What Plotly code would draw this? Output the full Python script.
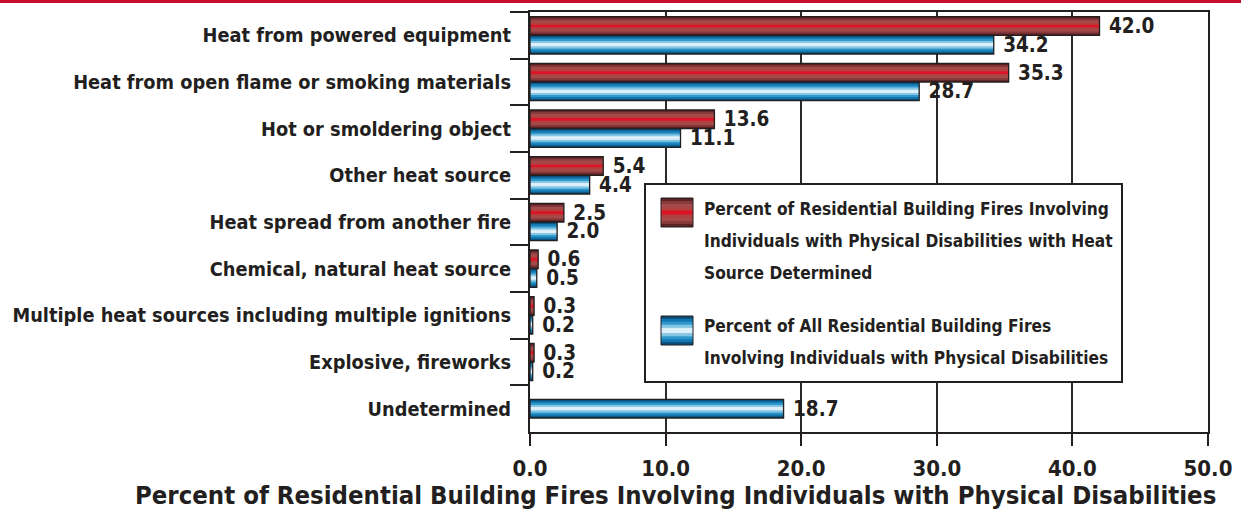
import plotly.graph_objects as go

categories = ["Heat from powered equipment",
              "Heat from open flame or smoking materials",
              "Hot or smoldering object",
              "Other heat source",
              "Heat spread from another fire",
              "Chemical, natural heat source",
              "Multiple heat sources including multiple ignitions",
              "Explosive, fireworks",
              "Undetermined"]
determined = [42.0, 35.3, 13.6, 5.4, 2.5, 0.6, 0.3, 0.3, None]
all_fires = [34.2, 28.7, 11.1, 4.4, 2.0, 0.5, 0.2, 0.2, 18.7]
x_ticks = [0, 10, 20, 30, 40, 50]

name_red = ["Percent of Residential Building Fires Involving",
            "Individuals with Physical Disabilities with Heat",
            "Source Determined"]
name_blue = ["Percent of All Residential Building Fires",
             "Involving Individuals with Physical Disabilities"]
x_title = "Percent of Residential Building Fires Involving Individuals with Physical Disabilities"

FONT = "DejaVu Sans Condensed, Liberation Sans Narrow, Roboto Condensed, sans-serif"
TXT = "#231f20"
W, H = 1241, 512
L, R, T, B = 530, 33, 12, 80

red_layers = [(1.0, "#5a2022"), (0.8, "#86393a"), (0.6, "#a54a4a"), (0.34, "#b2403f"), (0.14, "#dc1428")]
blue_layers = [(1.0, "#0a4f7a"), (0.8, "#1479b0"), (0.6, "#2e98cc"), (0.4, "#86c6e4"), (0.18, "#dcf0f9")]

BW = 0.4  # bar width in category units


def fnt(size):
    return dict(family=FONT, size=size, color=TXT, weight="bold")


fig = go.Figure()


def add_series(values, layers, offsets, name):
    for frac, col in layers:
        w = BW * frac
        fig.add_trace(go.Bar(
            y=categories, x=values, orientation="h", name=name,
            width=[w] * len(categories),
            offset=[o + (BW - w) / 2 for o in offsets],
            marker=dict(color=col, line=dict(width=0)),
            showlegend=False, hoverinfo="skip"))
    fig.add_trace(go.Bar(
        y=categories, x=values, orientation="h", name=name,
        width=[BW] * len(categories), offset=offsets,
        marker=dict(color="rgba(0,0,0,0)", line=dict(width=1.3, color=TXT)),
        text=[(" %.1f" % v) if v is not None else "" for v in values],
        textposition="outside", cliponaxis=False, constraintext="none",
        textfont=fnt(20.5),
        showlegend=False))


red_off = [-BW] * len(categories)
blue_off = [0.0 if d is not None else -BW / 2 for d in determined]
add_series(determined, red_layers, red_off, "Determined")
add_series(all_fires, blue_layers, blue_off, "All")


def px(xp):
    return (xp - L) / (W - L - R)


def py(yp):
    return (H - B - yp) / (H - T - B)


shapes = []
shapes.append(dict(type="rect", xref="paper", yref="paper", x0=px(0), x1=px(W), y0=py(0), y1=py(3),
                   fillcolor="#c8102e", line=dict(width=0), layer="above"))
shapes.append(dict(type="rect", xref="paper", yref="paper", x0=px(645), x1=px(1122), y0=py(382), y1=py(184),
                   fillcolor="white", line=dict(color=TXT, width=2), layer="above"))


def swatch(x0, x1, y0, y1, layers):
    h = y1 - y0
    c = (y0 + y1) / 2
    for frac, col in layers:
        hh = h * frac / 2
        shapes.append(dict(type="rect", xref="paper", yref="paper", x0=px(x0), x1=px(x1),
                           y0=py(c + hh), y1=py(c - hh), fillcolor=col, line=dict(width=0), layer="above"))
    shapes.append(dict(type="rect", xref="paper", yref="paper", x0=px(x0), x1=px(x1),
                       y0=py(y1), y1=py(y0), line=dict(color=TXT, width=1), layer="above"))


swatch(661, 693, 198, 227, red_layers)
swatch(661, 693, 316, 345, blue_layers)

annotations = []
for i, t in enumerate(name_red):
    annotations.append(dict(text=t, xref="paper", yref="paper", x=px(702), y=py(209 + 32 * i),
                            xanchor="left", yanchor="middle", showarrow=False, font=fnt(17.2)))
for i, t in enumerate(name_blue):
    annotations.append(dict(text=t, xref="paper", yref="paper", x=px(702), y=py(326 + 32 * i),
                            xanchor="left", yanchor="middle", showarrow=False, font=fnt(17.2)))
annotations.append(dict(text=x_title, xref="paper", yref="paper", x=px(675), y=py(495),
                        xanchor="center", yanchor="middle", showarrow=False, font=fnt(25.5)))

fig.update_layout(
    width=W, height=H, margin=dict(l=L, r=R, t=T, b=B, autoexpand=False),
    barmode="overlay", paper_bgcolor="white", plot_bgcolor="white",
    font=fnt(20),
    shapes=shapes, annotations=annotations, showlegend=False,
    xaxis=dict(range=[0, 50], tickvals=x_ticks, tickformat=".1f", automargin=False,
               showgrid=True, gridcolor="#2a2a2a", gridwidth=2,
               showline=True, linecolor=TXT, linewidth=2, mirror=True,
               ticks="outside", ticklen=12, tickwidth=2, tickcolor=TXT,
               ticklabelstandoff=4, tickfont=fnt(22), zeroline=False),
    yaxis=dict(categoryorder="array", categoryarray=categories, autorange="reversed", automargin=False,
               showline=True, linecolor=TXT, linewidth=2, mirror=True,
               ticks="outside", tickson="boundaries", ticklen=18, tickwidth=2, tickcolor=TXT,
               ticklabelstandoff=13, showgrid=False, tickfont=fnt(19.8)),
)

fig.write_html("out.html", config={"displayModeBar": False},
               post_script="document.body.style.margin='0';")
